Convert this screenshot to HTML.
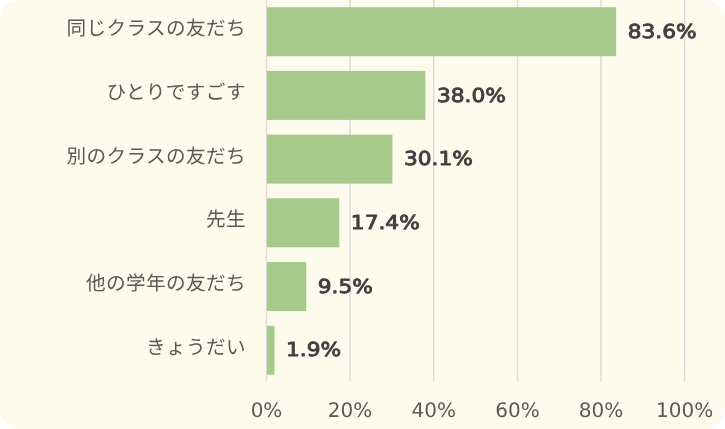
<!DOCTYPE html>
<html><head><meta charset="utf-8">
<style>
html,body{margin:0;padding:0;background:#ffffff;}
body{width:725px;height:429px;overflow:hidden;position:relative;}
.card{position:absolute;left:0;top:0;width:725px;height:429px;background:#fdfbec;border-radius:20px;overflow:hidden;}
svg{position:absolute;left:0;top:0;will-change:transform;text-rendering:geometricPrecision;}
.cat{font-family:"Liberation Sans","Noto Sans CJK JP",sans-serif;font-size:19.6px;letter-spacing:0.4px;fill:#595959;}
.ax{font-family:"DejaVu Sans","Liberation Sans",sans-serif;font-size:20px;fill:#595959;}
.dl{font-family:"DejaVu Sans","Liberation Sans",sans-serif;font-size:19.2px;font-weight:normal;fill:#404040;stroke:#404040;stroke-width:0.9px;stroke-linejoin:round;}
</style></head><body>
<div class="card">
<svg width="725" height="429" viewBox="0 0 725 429">
<g stroke="#d9d9d9" stroke-width="1.33">
<line x1="266.5" y1="-1" x2="266.5" y2="381.7"/>
<line x1="350.0" y1="-1" x2="350.0" y2="381.7"/>
<line x1="433.7" y1="-1" x2="433.7" y2="381.7"/>
<line x1="517.5" y1="-1" x2="517.5" y2="381.7"/>
<line x1="601.0" y1="-1" x2="601.0" y2="381.7"/>
<line x1="684.7" y1="-1" x2="684.7" y2="381.7"/>
</g>
<g fill="#a6c98c">
<rect x="267.0" y="7.20" width="349.12" height="49.0"/>
<rect x="267.0" y="70.90" width="158.42" height="49.0"/>
<rect x="267.0" y="134.60" width="125.38" height="49.0"/>
<rect x="267.0" y="198.30" width="72.27" height="49.0"/>
<rect x="267.0" y="262.00" width="39.23" height="49.0"/>
<rect x="267.0" y="325.70" width="7.45" height="49.0"/>
</g>
<g class="cat" text-anchor="end">
<text x="246.0" y="35">同じクラスの友だち</text>
<text x="246.0" y="99">ひとりですごす</text>
<text x="246.0" y="163">別のクラスの友だち</text>
<text x="246.0" y="226">先生</text>
<text x="246.0" y="290">他の学年の友だち</text>
<text x="246.0" y="354">きょうだい</text>
</g>
<g class="dl">
<text transform="translate(627.72,37.90) scale(1.13,1)">83.6%</text>
<text transform="translate(437.02,101.60) scale(1.13,1)">38.0%</text>
<text transform="translate(403.98,165.30) scale(1.13,1)">30.1%</text>
<text transform="translate(350.87,229.00) scale(1.13,1)">17.4%</text>
<text transform="translate(317.83,292.70) scale(1.13,1)">9.5%</text>
<text transform="translate(286.05,356.40) scale(1.13,1)">1.9%</text>
</g>
<g class="ax" text-anchor="middle">
<text transform="translate(266.5,416.8) scale(1.0,1)">0%</text>
<text transform="translate(350.0,416.8) scale(1.0,1)">20%</text>
<text transform="translate(433.7,416.8) scale(1.0,1)">40%</text>
<text transform="translate(517.5,416.8) scale(1.0,1)">60%</text>
<text transform="translate(601.0,416.8) scale(1.0,1)">80%</text>
<text transform="translate(684.7,416.8) scale(1.0,1)">100%</text>
</g>
</svg>
</div>
</body></html>
